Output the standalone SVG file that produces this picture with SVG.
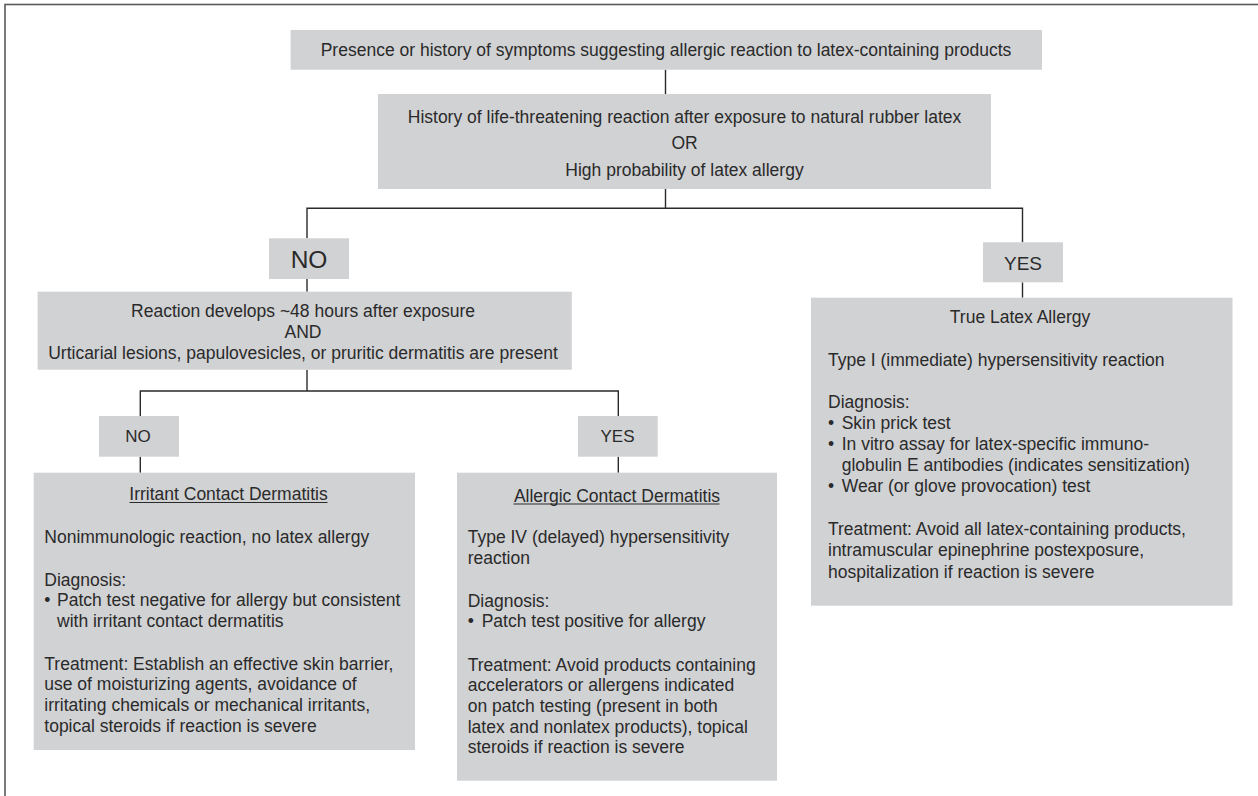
<svg xmlns="http://www.w3.org/2000/svg" width="1258" height="796" viewBox="0 0 1258 796">
<style>
.box{fill:#d1d2d4;stroke:none}
.t{font-family:"Liberation Sans",Arial,sans-serif;font-size:17.5px;fill:#2a2a2a}
.c{text-anchor:middle}
.big{font-size:24.5px}
.mid{font-size:19px}
.lbl{font-size:17px}
.ln{stroke:#2a2a2a;stroke-width:1.4;fill:none}
.ul{stroke:#2a2a2a;stroke-width:1;fill:none}
</style>
<rect x="5" y="4.5" width="1300" height="840" fill="#ffffff" stroke="#5a5a5a" stroke-width="1.6"/>
<g id="connectors">
<line class="ln" x1="665.5" y1="69.7" x2="665.5" y2="94"/>
<polyline class="ln" points="665.5,189 665.5,208.3"/>
<polyline class="ln" points="307,238.3 307,208.3 1022.5,208.3 1022.5,242.3"/>
<line class="ln" x1="307" y1="279" x2="307" y2="291.7"/>
<line class="ln" x1="1022.5" y1="282.3" x2="1022.5" y2="297.7"/>
<polyline class="ln" points="140.3,416 140.3,391 618.3,391 618.3,416"/>
<line class="ln" x1="307" y1="369.7" x2="307" y2="391"/>
<line class="ln" x1="140.3" y1="456.7" x2="140.3" y2="472.7"/>
<line class="ln" x1="618.3" y1="456.7" x2="618.3" y2="472.7"/>
</g>
<g id="n1">
<rect class="box" x="290.6" y="30" width="751.4" height="39.7"/>
<text class="t c" x="666" y="56">Presence or history of symptoms suggesting allergic reaction to latex-containing products</text>
</g>
<g id="n2">
<rect class="box" x="378" y="94" width="613" height="95"/>
<text class="t c" x="684.5" y="122.7">History of life-threatening reaction after exposure to natural rubber latex</text>
<text class="t c" x="684.5" y="149.3">OR</text>
<text class="t c" x="684.5" y="176">High probability of latex allergy</text>
</g>
<g id="n-no1">
<rect class="box" x="269" y="238.3" width="80" height="40.7"/>
<text class="t c big" x="309" y="267.5">NO</text>
</g>
<g id="n-yes1">
<rect class="box" x="983" y="242.3" width="80" height="40"/>
<text class="t c mid" x="1023" y="270">YES</text>
</g>
<g id="n3">
<rect class="box" x="37.6" y="291.7" width="534.2" height="78"/>
<text class="t c" x="303" y="316.7">Reaction develops ~48 hours after exposure</text>
<text class="t c" x="303" y="337.7">AND</text>
<text class="t c" x="303" y="359.3">Urticarial lesions, papulovesicles, or pruritic dermatitis are present</text>
</g>
<g id="n-no2">
<rect class="box" x="99" y="416" width="80" height="40.7"/>
<text class="t c lbl" x="138" y="442.3">NO</text>
</g>
<g id="n-yes2">
<rect class="box" x="578" y="416" width="79.7" height="40.7"/>
<text class="t c lbl" x="617.5" y="442.3">YES</text>
</g>
<g id="n-icd">
<rect class="box" x="33.7" y="472.7" width="381.3" height="277.3"/>
<text class="t c" x="228.5" y="500">Irritant Contact Dermatitis</text>
<line class="ul" x1="129.5" y1="502.5" x2="327.5" y2="502.5"/>
<text class="t" x="44.3" y="543">Nonimmunologic reaction, no latex allergy</text>
<text class="t" x="44.3" y="585.5">Diagnosis:</text>
<text class="t" x="44.3" y="606.3">•</text>
<text class="t" x="57" y="606.3">Patch test negative for allergy but consistent</text>
<text class="t" x="57" y="627">with irritant contact dermatitis</text>
<text class="t" x="44.3" y="669.5">Treatment: Establish an effective skin barrier,</text>
<text class="t" x="44.3" y="690.3">use of moisturizing agents, avoidance of</text>
<text class="t" x="44.3" y="711">irritating chemicals or mechanical irritants,</text>
<text class="t" x="44.3" y="731.7">topical steroids if reaction is severe</text>
</g>
<g id="n-acd">
<rect class="box" x="457" y="472.7" width="320" height="308"/>
<text class="t c" x="617" y="501.5">Allergic Contact Dermatitis</text>
<line class="ul" x1="513.5" y1="504" x2="719.5" y2="504"/>
<text class="t" x="467.7" y="543">Type IV (delayed) hypersensitivity</text>
<text class="t" x="467.7" y="563.7">reaction</text>
<text class="t" x="467.7" y="606.5">Diagnosis:</text>
<text class="t" x="467.7" y="627.3">•</text>
<text class="t" x="481.7" y="627.3">Patch test positive for allergy</text>
<text class="t" x="467.7" y="670.5">Treatment: Avoid products containing</text>
<text class="t" x="467.7" y="691.2">accelerators or allergens indicated</text>
<text class="t" x="467.7" y="712">on patch testing (present in both</text>
<text class="t" x="467.7" y="732.7">latex and nonlatex products), topical</text>
<text class="t" x="467.7" y="753.4">steroids if reaction is severe</text>
</g>
<g id="n-tla">
<rect class="box" x="811" y="297.7" width="421.5" height="308"/>
<text class="t c" x="1020" y="322.7">True Latex Allergy</text>
<text class="t" x="828" y="366">Type I (immediate) hypersensitivity reaction</text>
<text class="t" x="828" y="407.7">Diagnosis:</text>
<text class="t" x="828" y="428.7">•</text>
<text class="t" x="841.7" y="428.7">Skin prick test</text>
<text class="t" x="828" y="449.7">•</text>
<text class="t" x="841.7" y="449.7">In vitro assay for latex-specific immuno-</text>
<text class="t" x="841.7" y="470.7">globulin E antibodies (indicates sensitization)</text>
<text class="t" x="828" y="491.7">•</text>
<text class="t" x="841.7" y="491.7">Wear (or glove provocation) test</text>
<text class="t" x="828" y="535.3">Treatment: Avoid all latex-containing products,</text>
<text class="t" x="828" y="556.3">intramuscular epinephrine postexposure,</text>
<text class="t" x="828" y="577.5">hospitalization if reaction is severe</text>
</g>
</svg>
